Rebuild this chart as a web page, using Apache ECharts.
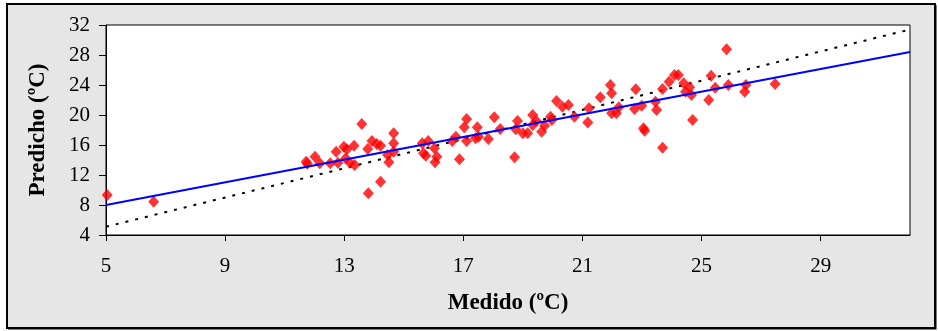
<!DOCTYPE html>
<html>
<head>
<meta charset="utf-8">
<title>Medido vs Predicho</title>
<script src="https://cdn.jsdelivr.net/npm/echarts@6/dist/echarts.min.js"></script>
<style>
  html, body { margin: 0; padding: 0; background: #ffffff; }
  #chart { width: 938px; height: 331px; }
</style>
</head>
<body>
<div id="chart"></div>
<script>
// Measured temperature (ºC)
const medido = [
  5.04, 6.6, 11.72, 11.76, 12.02, 12.18, 12.53, 12.73, 12.79, 12.99,
  13.05, 13.09, 13.19, 13.33, 13.35, 13.59, 13.79, 13.81, 13.93, 14.09,
  14.22, 14.22, 14.46, 14.5, 14.66, 14.66, 14.66, 15.62, 15.66, 15.74,
  15.82, 16.03, 16.05, 16.11, 16.63, 16.75, 16.87, 17.03, 17.11, 17.11,
  17.41, 17.47, 17.51, 17.84, 18.04, 18.24, 18.72, 18.76, 18.82, 19.0,
  19.16, 19.33, 19.33, 19.45, 19.63, 19.73, 19.93, 19.97, 20.13, 20.33,
  20.53, 20.73, 21.18, 21.22, 21.6, 21.94, 21.98, 21.98, 22.14, 22.22,
  22.79, 22.75, 22.99, 23.05, 23.09, 23.45, 23.49, 23.69, 23.69, 23.91,
  24.09, 24.22, 24.4, 24.46, 24.6, 24.66, 24.7, 25.24, 25.32, 25.46,
  25.84, 25.9, 26.45, 26.49, 27.47
];
// Predicted temperature (ºC)
const predicho = [
  9.33, 8.44, 13.78, 13.5, 14.44, 13.56, 13.56, 15.11, 13.64, 15.78,
  14.22, 15.42, 13.64, 15.91, 13.33, 18.8, 15.47, 9.56, 16.53, 16.13,
  15.91, 11.11, 14.67, 13.69, 17.56, 16.22, 15.11, 16.22, 14.89, 14.58,
  16.53, 15.56, 13.69, 14.44, 16.53, 17.11, 14.09, 18.36, 19.47, 16.53,
  16.89, 18.36, 17.11, 16.8, 19.69, 18.13, 14.36, 18.09, 19.2, 17.56,
  17.56, 20.0, 18.67, 19.2, 17.78, 18.58, 19.78, 19.33, 21.87, 21.11,
  21.33, 19.78, 19.0, 20.89, 22.36, 24.0, 22.89, 20.22, 20.22, 21.02,
  23.42, 20.8, 21.24, 18.22, 17.91, 21.78, 20.67, 23.47, 15.64, 24.44,
  25.33, 25.33, 24.22, 23.11, 23.69, 22.67, 19.33, 22.0, 25.24, 23.64,
  28.76, 24.0, 23.11, 24.0, 24.13
];
// Axis tick labels
const xTicks = [5, 9, 13, 17, 21, 25, 29];
const yTicks = [4, 8, 12, 16, 20, 24, 28, 32];
// Axis range
const xRange = [5, 32];
const yRange = [4, 32];
// Linear fit of predicted vs measured (solid) and the near 1:1 reference (dotted)
const fit = { slope: 0.7556, intercept: 4.222 };
const reference = { slope: 0.974, intercept: 0.23 };

const lineThrough = (l) => xRange.map(x => [x, l.intercept + l.slope * x]);
const points = medido.map((m, i) => [m, predicho[i]]);

const serif = '"Liberation Serif", "Times New Roman", serif';
const chart = echarts.init(document.getElementById('chart'), null, { renderer: 'canvas' });

chart.setOption({
  animation: false,
  backgroundColor: '#ffffff',
  graphic: [
    {
      type: 'rect', z: -10, silent: true,
      shape: { x: 7, y: 4, width: 928, height: 324 },
      style: { fill: '#e6e6e6', stroke: '#000000', lineWidth: 2 }
    },
    {
      type: 'polyline', z: -9, silent: true,
      shape: { points: [[8, 328.5], [935.5, 328.5], [935.5, 5]] },
      style: { stroke: '#000000', lineWidth: 2, fill: null }
    }
  ],
  grid: {
    left: 106, right: 28, top: 25, bottom: 96,
    show: true, backgroundColor: '#ffffff', borderColor: '#000000', borderWidth: 1
  },
  xAxis: {
    type: 'value', min: xRange[0], max: xRange[1],
    name: 'Medido (ºC)', nameLocation: 'middle', nameGap: 57,
    nameTextStyle: { fontFamily: serif, fontWeight: 'bold', fontSize: 23, color: '#000' },
    axisLine: { show: true, lineStyle: { color: '#000', width: 1 } },
    axisTick: { show: true, inside: false, length: 6, customValues: xTicks, lineStyle: { color: '#000' } },
    axisLabel: { customValues: xTicks, margin: 21, fontFamily: serif, fontSize: 21, color: '#000' },
    splitLine: { show: false }
  },
  yAxis: {
    type: 'value', min: yRange[0], max: yRange[1], interval: 4,
    name: 'Predicho (ºC)', nameLocation: 'middle', nameGap: 56, nameRotate: 90,
    nameTextStyle: { fontFamily: serif, fontWeight: 'bold', fontSize: 23, color: '#000' },
    axisLine: { show: true, lineStyle: { color: '#000', width: 1 } },
    axisTick: { show: true, inside: false, length: 7, customValues: yTicks, lineStyle: { color: '#000' } },
    axisLabel: { customValues: yTicks, margin: 16, fontFamily: serif, fontSize: 21, color: '#000' },
    splitLine: { show: false }
  },
  series: [
    {
      name: 'Referencia', type: 'line', data: lineThrough(reference), symbol: 'none',
      lineStyle: { color: '#000000', width: 2, type: [3, 7] }, z: 1
    },
    {
      name: 'Datos', type: 'scatter', data: points, symbol: 'diamond', symbolSize: [11, 12],
      itemStyle: { color: '#ff0000' }, z: 2
    },
    {
      name: 'Ajuste', type: 'line', data: lineThrough(fit), symbol: 'none',
      lineStyle: { color: '#0000ff', width: 2 }, z: 3
    }
  ]
});
</script>
</body>
</html>
